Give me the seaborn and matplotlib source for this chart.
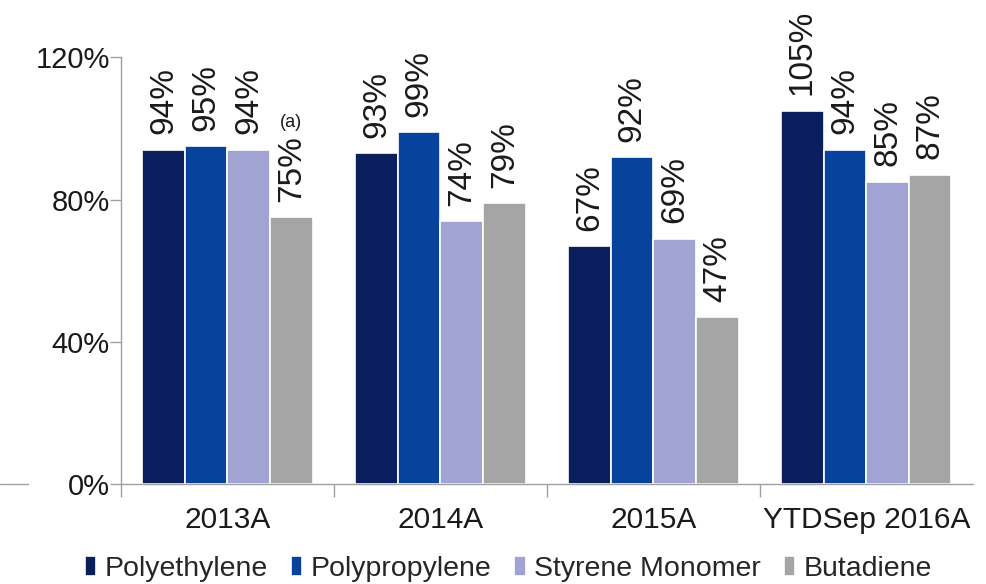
import matplotlib
matplotlib.use("Agg")
import matplotlib.pyplot as plt
import seaborn as sns
import pandas as pd
from matplotlib.lines import Line2D

categories = ["2013A", "2014A", "2015A", "YTDSep 2016A"]
series = ["Polyethylene", "Polypropylene", "Styrene Monomer", "Butadiene"]
polyethylene = [94, 93, 67, 105]
polypropylene = [95, 99, 92, 94]
styrene = [94, 74, 69, 85]
butadiene = [75, 79, 47, 87]
y_ticks = [0, 40, 80, 120]
y_tick_labels = ["0%", "40%", "80%", "120%"]
colors = ["#0B1F5E", "#07429C", "#A1A3D2", "#A5A5A5"]

values = [polyethylene, polypropylene, styrene, butadiene]
rows = []
for s, vals in zip(series, values):
    for c, v in zip(categories, vals):
        rows.append({"category": c, "series": s, "value": v})
df = pd.DataFrame(rows)

sns.set_theme(style="white")
plt.rcParams["font.family"] = ["Liberation Sans", "DejaVu Sans"]

fig = plt.figure(figsize=(9.87, 5.84), dpi=100)
ax = fig.add_axes([0.1226, 0.171, 0.863, 0.731])

sns.barplot(data=df, x="category", y="value", hue="series", order=categories,
            hue_order=series, palette=colors, width=0.8, ax=ax,
            edgecolor="white", linewidth=1.2, saturation=1, legend=True)

for cont, vals in zip(ax.containers, values):
    ax.bar_label(cont, labels=[f"{v}%" for v in vals], rotation=90,
                 padding=11, fontsize=24, color="#1a1a1a")

ax.text(0.3, 101.7, "(a)", ha="center", va="center", fontsize=13, color="#1a1a1a")

ax.set_ylim(0, 120)
ax.set_xlim(-0.5, 3.5)
ax.set_yticks(y_ticks)
ax.set_yticklabels(y_tick_labels, fontsize=21, color="#1a1a1a")
ax.set_xticks([0, 1, 2, 3])
ax.set_xticklabels(categories, fontsize=21.5, color="#1a1a1a")
ax.tick_params(axis="x", length=0, pad=16)
ax.tick_params(axis="y", length=8, width=1, color="#A0A0A0", pad=0, left=True)
ax.set_xticks([-0.5, 0.5, 1.5, 2.5], minor=True)
ax.tick_params(axis="x", which="minor", length=9, width=1, color="#A0A0A0", bottom=True)
ax.set_xlabel("")
ax.set_ylabel("")
for side in ["top", "right"]:
    ax.spines[side].set_visible(False)
for side in ["left", "bottom"]:
    ax.spines[side].set_color("#A0A0A0")
    ax.spines[side].set_linewidth(1)

handles, labels = ax.get_legend_handles_labels()
ax.legend_.remove()
fig.legend(handles, labels, loc="center", bbox_to_anchor=(0.515, 0.026), ncol=4,
           frameon=False, fontsize=20.5, handlelength=0.4, handleheight=0.7,
           handletextpad=0.3, columnspacing=0.8, borderaxespad=0)

fig.add_artist(Line2D([0.0, 0.028], [1 - 484/584, 1 - 484/584], transform=fig.transFigure,
                      color="#A0A0A0", linewidth=1))

fig.savefig("out.png", dpi=100)
